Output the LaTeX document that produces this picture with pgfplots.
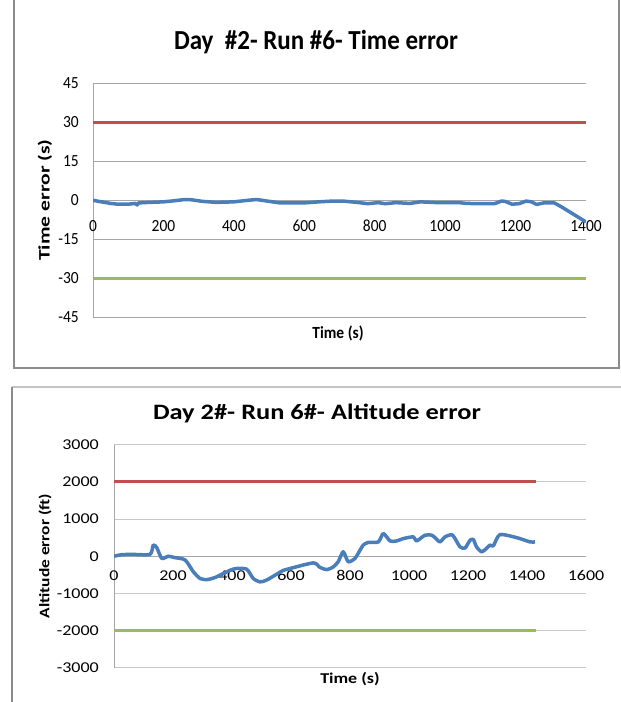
\documentclass[border=0pt]{standalone}
\usepackage{pgfplots}
\pgfplotsset{compat=1.18}
\usepackage{fontspec}
\setmainfont{Carlito}
\newfontfamily\wfont[FakeStretch=1.2]{Carlito}
\newfontfamily\wwfont[FakeStretch=1.35]{Carlito}
\newfontfamily\cfont[FakeStretch=0.91]{Carlito}
\definecolor{xblue}{HTML}{4A7EBB}
\definecolor{xred}{HTML}{C0504D}
\definecolor{xgreen}{HTML}{9BBB59}
\definecolor{gridgray}{HTML}{A6A6A6}
\definecolor{gridgrayb}{HTML}{C8C8C8}
\definecolor{framegray}{HTML}{8C8C8C}
\definecolor{framelight}{HTML}{C4C4C4}
\pgfplotsset{
  excelaxis/.style={
    anchor=south west, scale only axis,
    axis x line=middle, axis y line=left,
    axis line style={-},
    ymajorgrids, major tick length=0pt,
    hide obscured x ticks=false, hide obscured y ticks=false,
    scaled ticks=false,
    /pgf/number format/1000 sep={},
    /pgf/number format/assume math mode=true,
    xticklabel style={inner sep=0pt, anchor=base},
    yticklabel style={inner sep=0pt, anchor=east},
  }
}
\begin{document}
\begin{tikzpicture}[x=1pt,y=1pt]
\useasboundingbox (0,0) rectangle (621,702);
% frames
\draw[framegray, line width=2pt] (14,710) -- (14,334) -- (619,334) -- (619,710);
\draw[framelight, line width=1.5pt] (12,315) -- (630,315);
\draw[framegray, line width=2pt] (12,315) -- (12,-10);
% top chart
\begin{axis}[excelaxis,
  at={(93pt,384.7pt)}, width=493pt, height=234pt,
  xmin=0, xmax=1400, ymin=-45, ymax=45,
  xtick={0,200,...,1400}, ytick={-45,-30,-15,0,15,30,45},
  tick label style={font=\cfont\fontsize{17}{17}\selectfont},
  axis line style={gridgray, line width=1pt},
  grid style={gridgray, line width=1pt},
  xticklabel style={yshift=-31pt},
  yticklabel style={xshift=-14pt},
]
\addplot[xred, line width=3pt] coordinates {(0,30) (1400,30)};
\addplot[xgreen, line width=3pt] coordinates {(0,-30) (1400,-30)};
\addplot[xblue, line width=3.5pt, line join=round] coordinates {
(0,0) (20,-0.5) (50,-1.2) (70,-1.5) (100,-1.5) (120,-1.2) (125,-1.8) (130,-1.0)
(160,-0.8) (200,-0.6) (230,-0.2) (260,0.3) (280,0.2) (310,-0.4) (350,-0.8)
(400,-0.6) (440,0) (465,0.3) (490,-0.2) (530,-1.0) (600,-1.0) (640,-0.6)
(680,-0.3) (710,-0.3) (750,-0.8) (780,-1.3) (810,-0.9) (830,-1.3) (860,-0.9)
(900,-1.2) (930,-0.6) (980,-0.9) (1040,-0.9) (1060,-1.2) (1100,-1.3) (1140,-1.3)
(1160,-0.3) (1170,-0.4) (1190,-1.5) (1210,-1.3) (1230,-0.3) (1245,-0.6)
(1260,-1.6) (1280,-1.0) (1310,-1.0) (1330,-2.5) (1360,-5) (1390,-7.5) (1400,-8.3)
};
\end{axis}
\node[anchor=base, font=\cfont\bfseries\fontsize{27.5}{27.5}\selectfont] at (316,652) {Day\ \ \#2- Run \#6- Time error};
\node[rotate=90, font=\wwfont\bfseries\fontsize{16}{16}\selectfont] at (45,502) {Time error (s)};
\node[font=\cfont\bfseries\fontsize{17}{17}\selectfont] at (338,369) {Time (s)};
% bottom chart
\begin{axis}[excelaxis,
  at={(114pt,34.3pt)}, width=472pt, height=223pt,
  xmin=0, xmax=1600, ymin=-3000, ymax=3000,
  xtick={0,200,...,1600}, ytick={-3000,-2000,...,3000},
  tick label style={font=\wfont\fontsize{15}{15}\selectfont},
  axis line style={gridgray, line width=1pt},
  grid style={gridgrayb, line width=1pt},
  xticklabel style={yshift=-24pt},
  yticklabel style={xshift=-15pt},
]
\addplot[xred, line width=3pt] coordinates {(0,2000) (1430,2000)};
\addplot[xgreen, line width=3pt] coordinates {(0,-2000) (1430,-2000)};
\addplot[xblue, line width=3.5pt, line join=round, smooth, tension=0.4] coordinates {
(0,0) (26,40) (60,50) (122,50) (133,300) (145,230) (162,-60) (184,0) (204,-35)
(241,-100) (269,-420) (292,-600) (314,-630) (342,-575) (393,-380) (416,-330)
(450,-350) (472,-600) (495,-690) (518,-640) (574,-380) (597,-330) (676,-180)
(698,-300) (721,-360) (743,-290) (760,-150) (777,120) (794,-150) (817,-60)
(828,80) (845,300) (862,370) (896,385) (913,610) (936,410) (958,410) (981,475)
(1015,520) (1026,410) (1054,565) (1077,565) (1088,500) (1105,385) (1122,520)
(1145,580) (1156,475) (1173,250) (1190,220) (1207,430) (1218,450) (1229,250)
(1246,120) (1263,210) (1274,300) (1286,280) (1308,580) (1365,500) (1410,385) (1427,385)
};
\end{axis}
\node[anchor=base, font=\wfont\bfseries\fontsize{22}{22}\selectfont] at (317,282.7) {Day 2\#- Run 6\#- Altitude error};
\node[rotate=90, font=\wfont\bfseries\fontsize{14.5}{14.5}\selectfont] at (45,146) {Altitude error (ft)};
\node[font=\wfont\bfseries\fontsize{15}{15}\selectfont] at (350,23) {Time (s)};
\end{tikzpicture}
\end{document}
